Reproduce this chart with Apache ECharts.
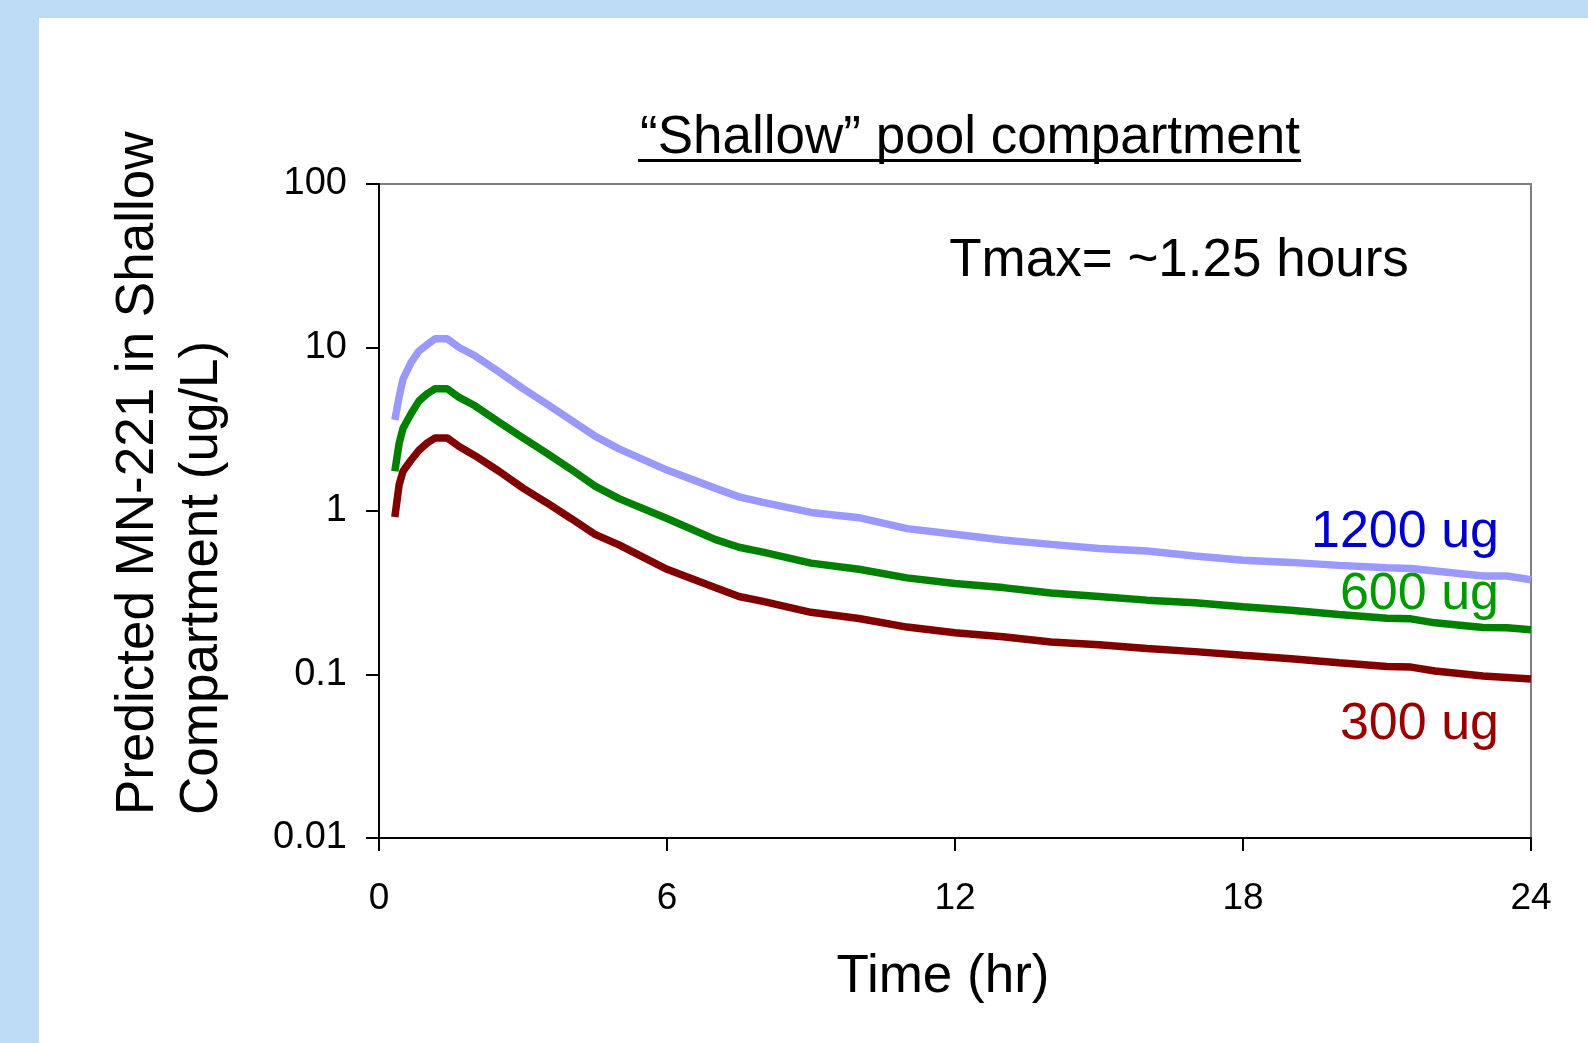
<!DOCTYPE html>
<html>
<head>
<meta charset="utf-8">
<script src="https://cdn.jsdelivr.net/npm/echarts@6/dist/echarts.min.js"></script>
<style>
  html, body { margin: 0; padding: 0; }
  #chart-container { width: 1588px; height: 1043px; }
</style>
</head>
<body>
<div id="chart-container"></div>
<script>
var dom = document.getElementById("chart-container");
var myChart = echarts.init(dom, null, { renderer: "canvas" });

// hours after dose
var times = [0.33, 0.42, 0.5, 0.67, 0.83, 1.0, 1.17, 1.42, 1.67, 2.0, 2.5, 3.0, 3.5, 4.0,
  4.5, 5.0, 6.0, 7.0, 7.5, 8.0, 9.0, 10.0, 11.0, 12.0, 13.0, 14.0, 15.0, 16.0, 17.0,
  18.0, 19.0, 20.0, 21.0, 21.5, 22.0, 23.0, 23.5, 24.0];

// predicted concentration (ug/L) for each dose
var conc1200 = [3.6, 5.0, 6.4, 8.1, 9.5, 10.4, 11.3, 11.3, 10.0, 8.9, 7.1, 5.6, 4.5, 3.6,
  2.87, 2.4, 1.78, 1.38, 1.22, 1.13, 0.98, 0.91, 0.78, 0.72, 0.665, 0.625, 0.59, 0.57, 0.53,
  0.5, 0.485, 0.465, 0.45, 0.445, 0.43, 0.4, 0.4, 0.38];
var conc600 = [1.75, 2.6, 3.2, 3.95, 4.7, 5.2, 5.6, 5.6, 4.95, 4.4, 3.5, 2.8, 2.25, 1.8,
  1.42, 1.19, 0.9, 0.67, 0.6, 0.56, 0.48, 0.44, 0.39, 0.36, 0.34, 0.315, 0.3, 0.285, 0.275,
  0.26, 0.247, 0.233, 0.221, 0.219, 0.207, 0.194, 0.193, 0.188];
var conc300 = [0.92, 1.45, 1.75, 2.05, 2.35, 2.6, 2.8, 2.8, 2.48, 2.18, 1.75, 1.38, 1.12, 0.9,
  0.72, 0.62, 0.44, 0.34, 0.3, 0.28, 0.24, 0.22, 0.195, 0.18, 0.17, 0.158, 0.152, 0.144, 0.138,
  0.131, 0.125, 0.118, 0.112, 0.111, 0.105, 0.098, 0.096, 0.094];

var seriesNames = ["1200 ug", "600 ug", "300 ug"];
var lineColors = ["#9999ff", "#008000", "#800000"];
var labelColors = ["#0000cc", "#009900", "#990000"];
var yTickLabels = ["0.01", "0.1", "1", "10", "100"];
var xTicks = [0, 6, 12, 18, 24];

var font = "Liberation Sans, Arial, sans-serif";

function pairs(xs, ys) {
  return xs.map(function (x, i) { return [x, ys[i]]; });
}

var allConc = [conc1200, conc600, conc300];

function label(text, x, y, color, extra) {
  var el = {
    type: "text",
    x: x,
    y: y,
    style: {
      text: text,
      font: "53px " + font,
      fill: color,
      align: "center",
      verticalAlign: "middle",
    },
  };
  for (var k in extra || {}) {
    if (k === "rotation") el.rotation = extra[k];
    else el.style[k] = extra[k];
  }
  return el;
}

var option = {
  backgroundColor: "#bddbf3",
  animation: false,
  grid: {
    left: 379,
    top: 184,
    width: 1152,
    height: 654,
    show: true,
    borderColor: "#808080",
    borderWidth: 2,
    backgroundColor: "transparent",
  },
  xAxis: {
    type: "value",
    min: xTicks[0],
    max: xTicks[xTicks.length - 1],
    interval: 6,
    axisLine: { lineStyle: { color: "#000", width: 2 } },
    axisTick: { length: 13, lineStyle: { color: "#000", width: 2 } },
    axisLabel: { fontFamily: font, fontSize: 37, color: "#000", margin: 42 },
    splitLine: { show: false },
  },
  yAxis: {
    type: "log",
    logBase: 10,
    min: 0.01,
    max: 100,
    axisLine: { show: true, lineStyle: { color: "#000", width: 2 } },
    axisTick: { show: true, length: 13, lineStyle: { color: "#000", width: 2 } },
    axisLabel: {
      fontFamily: font,
      fontSize: 38,
      color: "#000",
      margin: 32,
      formatter: function (v) {
        return yTickLabels[Math.round(Math.log10(v)) + 2];
      },
    },
    splitLine: { show: false },
    minorTick: { show: false },
  },
  series: seriesNames.map(function (name, i) {
    return {
      name: name,
      type: "line",
      data: pairs(times, allConc[i]),
      showSymbol: false,
      symbol: "none",
      lineStyle: { color: lineColors[i], width: 7.5 },
      z: 3 - i,
    };
  }),
  graphic: [
    {
      type: "rect",
      z: -10,
      silent: true,
      shape: { x: 39, y: 18, width: 1600, height: 1100 },
      style: { fill: "#ffffff" },
    },
    label("\u201cShallow\u201d pool compartment", 970, 138, "#000"),
    {
      type: "rect",
      shape: { x: 638, y: 159, width: 663, height: 3 },
      style: { fill: "#000" },
    },
    label("Tmax= ~1.25 hours", 1179, 261, "#000"),
    label("Time (hr)", 943, 977, "#000"),
    label("Predicted MN-221 in Shallow", 138, 815, "#000", { rotation: Math.PI / 2, align: "left" }),
    label("Compartment (ug/L)", 202, 815, "#000", { rotation: Math.PI / 2, align: "left" }),
    label(seriesNames[0], 1499, 533, labelColors[0], { align: "right", font: "52px " + font }),
    label(seriesNames[1], 1499, 595, labelColors[1], { align: "right", font: "52px " + font }),
    label(seriesNames[2], 1499, 725, labelColors[2], { align: "right", font: "52px " + font }),
  ],
};

myChart.setOption(option);

window.addEventListener("resize", function () {
  myChart.resize();
});
</script>
</body>
</html>
